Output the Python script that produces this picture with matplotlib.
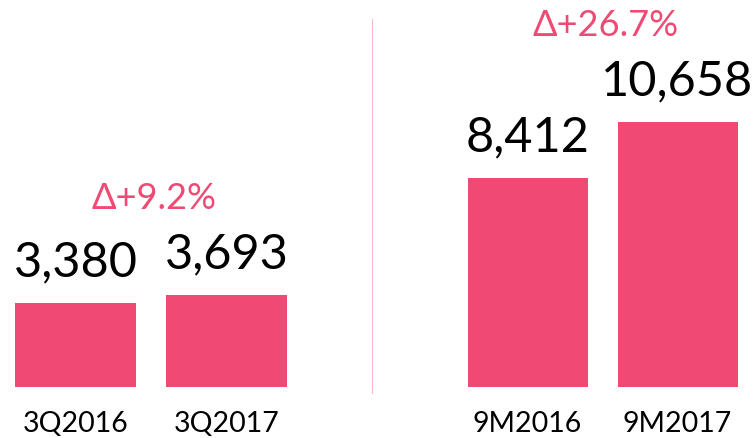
import matplotlib
matplotlib.use("Agg")
import matplotlib.pyplot as plt

plt.rcParams['font.family'] = ['Lato', 'DejaVu Sans']

# Quarterly and nine-month figures
quarter_labels = ["3Q2016", "3Q2017"]
quarter_values = [3380, 3693]
quarter_delta = "Δ+9.2%"

ytd_labels = ["9M2016", "9M2017"]
ytd_values = [8412, 10658]
ytd_delta = "Δ+26.7%"

BAR = "#F04A74"
ACCENT = "#EF4A74"

W, H = 754, 439
fig = plt.figure(figsize=(W / 100, H / 100), dpi=100)

bottom = 1 - 388 / H
ymax = 388 / 0.02485

ax_l = fig.add_axes([0 / W, bottom, 302 / W, 1 - bottom])
ax_r = fig.add_axes([452.5 / W, bottom, 300 / W, 1 - bottom])


def panel(ax, labels, values, delta):
    x = list(range(len(values)))
    ax.bar(x, values, width=0.8, color=BAR)
    ax.set_xlim(-0.5, len(values) - 0.5)
    ax.set_ylim(0, ymax)
    ax.axis("off")
    for xi, v, lab in zip(x, values, labels):
        ax.annotate(f"{v:,}", (xi, v), xytext=(0, 20), textcoords="offset points",
                    ha="center", va="baseline", fontsize=35, color="black")
        ax.annotate(lab, (xi, 0), xytext=(0, -32), textcoords="offset points",
                    ha="center", va="baseline", fontsize=20.5, color="black",
                    annotation_clip=False)
    ax.annotate(delta, ((x[0] + x[-1]) / 2, max(values)), xytext=(2, 63),
                textcoords="offset points", ha="center", va="baseline",
                fontsize=26, color=ACCENT, annotation_clip=False)


panel(ax_l, quarter_labels, quarter_values, quarter_delta)
panel(ax_r, ytd_labels, ytd_values, ytd_delta)

# Thin divider between the two panels
fig.add_artist(plt.Line2D([371.5 / W, 371.5 / W], [1 - 394 / H, 1 - 20 / H],
                          transform=fig.transFigure, color="#F6BCCB", lw=0.8))

fig.savefig("out.png", dpi=100, facecolor="white")
